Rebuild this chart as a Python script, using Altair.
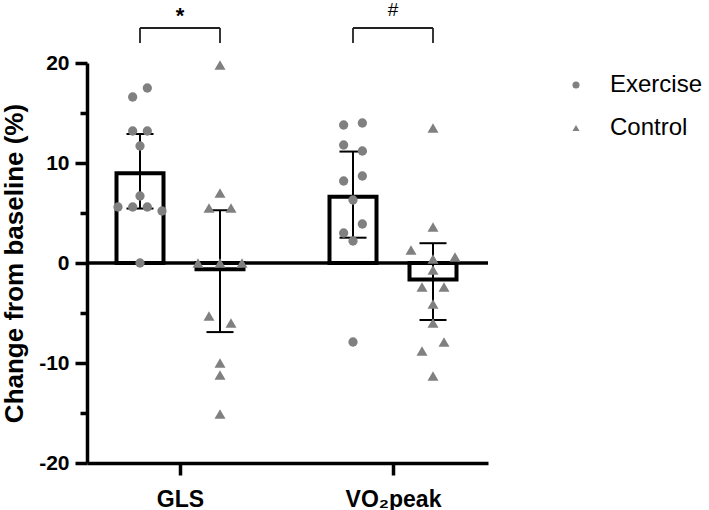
import math

import altair as alt
import pandas as pd

FONT = "Liberation Sans"
GRAY = "#808080"

# ---- data -------------------------------------------------------------
groups = ["GLS", "VO₂peak"]
arms = ["Exercise", "Control"]

# individual change from baseline (%)
gls_exercise = [16.6, 17.5, 13.2, 13.2, 11.7, 6.7, 5.6, 5.6, 5.6, 5.2, 0.0]
gls_control = [19.8, 7.0, 5.5, 5.5, 0.0, 0.0, 0.0, -5.3, -6.0, -10.0, -11.2, -15.1]
vo2_exercise = [13.8, 14.0, 11.8, 11.2, 8.2, 8.7, 6.3, 3.0, 3.9, 2.2, -7.9]
vo2_control = [13.5, 3.6, 1.3, 0.4, 0.6, -0.7, -2.4, -2.4, -4.1, -6.0, -8.8, -7.9, -11.3]

# between-arm comparison marker for each outcome
significance = ["*", "#"]

y_ticks = [-20, -15, -10, -5, 0, 5, 10, 15, 20]

samples = {
    ("GLS", "Exercise"): gls_exercise,
    ("GLS", "Control"): gls_control,
    ("VO₂peak", "Exercise"): vo2_exercise,
    ("VO₂peak", "Control"): vo2_control,
}

# two-sided 95% t critical values by degrees of freedom
T95 = {10: 2.228, 11: 2.201, 12: 2.179}

# ---- layout (pixels) --------------------------------------------------
PLOT_W, PLOT_H = 401, 400
LEFT, TOP = 87, 63
GROUP_STEP = 213          # distance between the two outcome groups
FIRST_GROUP = 93          # first group centre from the y axis
ARM_SHIFT = 40            # bar centre offset from group centre
BAR_OUTER_W = 51
BAR_STROKE = 4
Y_MIN, Y_MAX = y_ticks[0], y_ticks[-1]
PX_PER_Y = PLOT_H / (Y_MAX - Y_MIN)
SWARM_SPAN = 44           # widest spread of a row of points
ROW_TOL = 10 / PX_PER_Y   # values closer than one marker share a row

MARKERS = {
    "Exercise": {"shape": "circle", "size": 86, "max_step": 18.7},
    "Control": {"shape": "triangle-up", "size": 121, "max_step": 22},
}


def px_x(px):
    return px / GROUP_STEP


def px_y(px):
    return px / PX_PER_Y


def swarm_offsets(vals, max_step):
    """Column-scatter layout: rows of near-equal values spread sideways."""
    order = sorted(range(len(vals)), key=lambda i: -vals[i])
    rows, cur = [], []
    for i in order:
        if cur and vals[cur[0]] - vals[i] > ROW_TOL + 1e-9:
            rows.append(cur)
            cur = []
        cur.append(i)
    rows.append(cur)
    widest = max(len(r) for r in rows)
    step = min(max_step, SWARM_SPAN / (widest - 1)) if widest > 1 else 0
    off = [0.0] * len(vals)
    for r in rows:
        r = sorted(r)
        for k, i in enumerate(r):
            off[i] = (k - (len(r) - 1) / 2) * step
    return off


point_rows, summary_rows = [], []
for gi, g in enumerate(groups):
    for ai, arm in enumerate(arms):
        vals = samples[(g, arm)]
        centre = gi + px_x((2 * ai - 1) * ARM_SHIFT)
        offs = swarm_offsets(vals, MARKERS[arm]["max_step"])
        for v, o in zip(vals, offs):
            point_rows.append({"group": g, "arm": arm, "value": v, "x": centre + px_x(o)})
        n = len(vals)
        mean = sum(vals) / n
        sd = math.sqrt(sum((v - mean) ** 2 for v in vals) / (n - 1))
        half_ci = T95[n - 1] * sd / math.sqrt(n)
        half_w = px_x((BAR_OUTER_W - BAR_STROKE) / 2)
        summary_rows.append({
            "group": g, "arm": arm, "mean": mean,
            "lo": mean - half_ci, "hi": mean + half_ci,
            "bx": centre, "bx1": centre - half_w, "bx2": centre + half_w,
            "bar_end": mean - math.copysign(px_y(BAR_STROKE / 2), mean),
            "base": 0.0,
        })

points = pd.DataFrame(point_rows)
summary = pd.DataFrame(summary_rows)

ann = pd.DataFrame({
    "gx": [float(i) for i in range(len(groups))],
    "xl": [i + px_x(-ARM_SHIFT) for i in range(len(groups))],
    "xr": [i + px_x(ARM_SHIFT) for i in range(len(groups))],
    "label": significance,
})
ann["top"] = Y_MAX + px_y(35)
ann["leg"] = Y_MAX + px_y(20)
ann["ty"] = Y_MAX + px_y(53)

baseline = pd.DataFrame({"level": [0.0]})

# ---- scales and axes --------------------------------------------------
x_scale = alt.Scale(domain=[-px_x(FIRST_GROUP), px_x(PLOT_W - FIRST_GROUP)], nice=False, zero=False)
y_scale = alt.Scale(domain=[Y_MIN, Y_MAX], nice=False, zero=False)

group_list = ",".join(f"'{g}'" for g in groups)
x_axis = alt.Axis(
    values=list(range(len(groups))),
    labelExpr=f"[{group_list}][round(datum.value)]",
    title=None, grid=False,
    domainColor="black", domainWidth=3.5,
    tickColor="black", tickWidth=3.5, tickSize=12,
    labelFont=FONT, labelFontSize=23, labelFontWeight="bold", labelColor="black",
    labelPadding=13, labelFlush=False,
)
y_axis = alt.Axis(
    values=y_ticks,
    labelExpr="datum.value % 10 === 0 ? '' + datum.value : ''",
    title="Change from baseline (%)", grid=False,
    domainColor="black", domainWidth=3.5,
    tickColor="black", tickWidth=3.5,
    tickSize={"condition": {"test": "datum.value % 10 !== 0", "value": 7}, "value": 12},
    labelFont=FONT, labelFontSize=21, labelFontWeight="bold", labelColor="black",
    labelPadding=6, labelFlush=False,
    titleFont=FONT, titleFontSize=26, titleFontWeight="bold", titleColor="black",
    titleAngle=270, titleAlign="center", titleBaseline="alphabetic",
    titleX=-65, titleY=PLOT_H / 2,
)


def X(field):
    return alt.X(field, type="quantitative", scale=x_scale, axis=x_axis)


def Y(field):
    return alt.Y(field, type="quantitative", scale=y_scale, axis=y_axis)


bars = alt.Chart(summary).mark_rect(fill="white", stroke="black", strokeWidth=BAR_STROKE).encode(
    x=X("bx1"), x2="bx2", y=Y("bar_end"), y2="base"
)

zero_line = alt.Chart(baseline).mark_rule(color="black", strokeWidth=3.5).encode(y=Y("level"))

err_line = alt.Chart(summary).mark_rule(color="black", strokeWidth=2).encode(
    x=X("bx"), y=Y("lo"), y2="hi"
)

err_caps = alt.Chart(summary).transform_fold(["lo", "hi"], as_=["end", "val"]).mark_tick(
    orient="horizontal", size=27, thickness=2, color="black", opacity=1
).encode(x=X("bx"), y=Y("val"))

shape_enc = alt.Shape(
    "arm:N",
    scale=alt.Scale(domain=arms, range=[MARKERS[a]["shape"] for a in arms]),
    legend=alt.Legend(
        title=None, orient="none", legendX=477, legendY=10, padding=0,
        labelFont=FONT, labelFontSize=24, labelColor="black", labelOffset=22,
        symbolSize=50, symbolFillColor=GRAY, symbolStrokeWidth=0,
        rowPadding=19,
    ),
)

# one layer per arm so each marker keeps its own size
dot_layers = [
    alt.Chart(points).transform_filter(f"datum.arm === '{a}'").mark_point(
        filled=True, opacity=1, color=GRAY, strokeWidth=0, size=MARKERS[a]["size"]
    ).encode(x=X("x"), y=Y("value"), shape=shape_enc)
    for a in arms
]

bracket_top = alt.Chart(ann).mark_rule(color="#222222", strokeWidth=1.8).encode(
    x=X("xl"), x2="xr", y=Y("top")
)
bracket_legs = alt.Chart(ann).transform_fold(["xl", "xr"], as_=["side", "lx"]).mark_rule(
    color="#222222", strokeWidth=1.8
).encode(x=X("lx"), y=Y("top"), y2="leg")

star = alt.Chart(ann).transform_filter("datum.label === '*'").mark_text(
    font=FONT, fontSize=22, fontWeight="bold", color="black", baseline="middle", dy=6
).encode(x=X("gx"), y=Y("ty"), text="label:N")
hash_mark = alt.Chart(ann).transform_filter("datum.label !== '*'").mark_text(
    font=FONT, fontSize=19, color="black", baseline="middle"
).encode(x=X("gx"), y=Y("ty"), text="label:N")

chart = alt.layer(
    bars, zero_line, err_line, err_caps, *dot_layers, bracket_top, bracket_legs, star, hash_mark
).properties(
    width=PLOT_W,
    height=PLOT_H,
    autosize=alt.AutoSizeParams(type="none"),
    padding={"left": LEFT, "top": TOP, "right": 709 - LEFT - PLOT_W, "bottom": 510 - TOP - PLOT_H},
).configure(font=FONT).configure_view(stroke=None)

chart.save("out.html", embed_options={"renderer": "svg", "actions": False})
